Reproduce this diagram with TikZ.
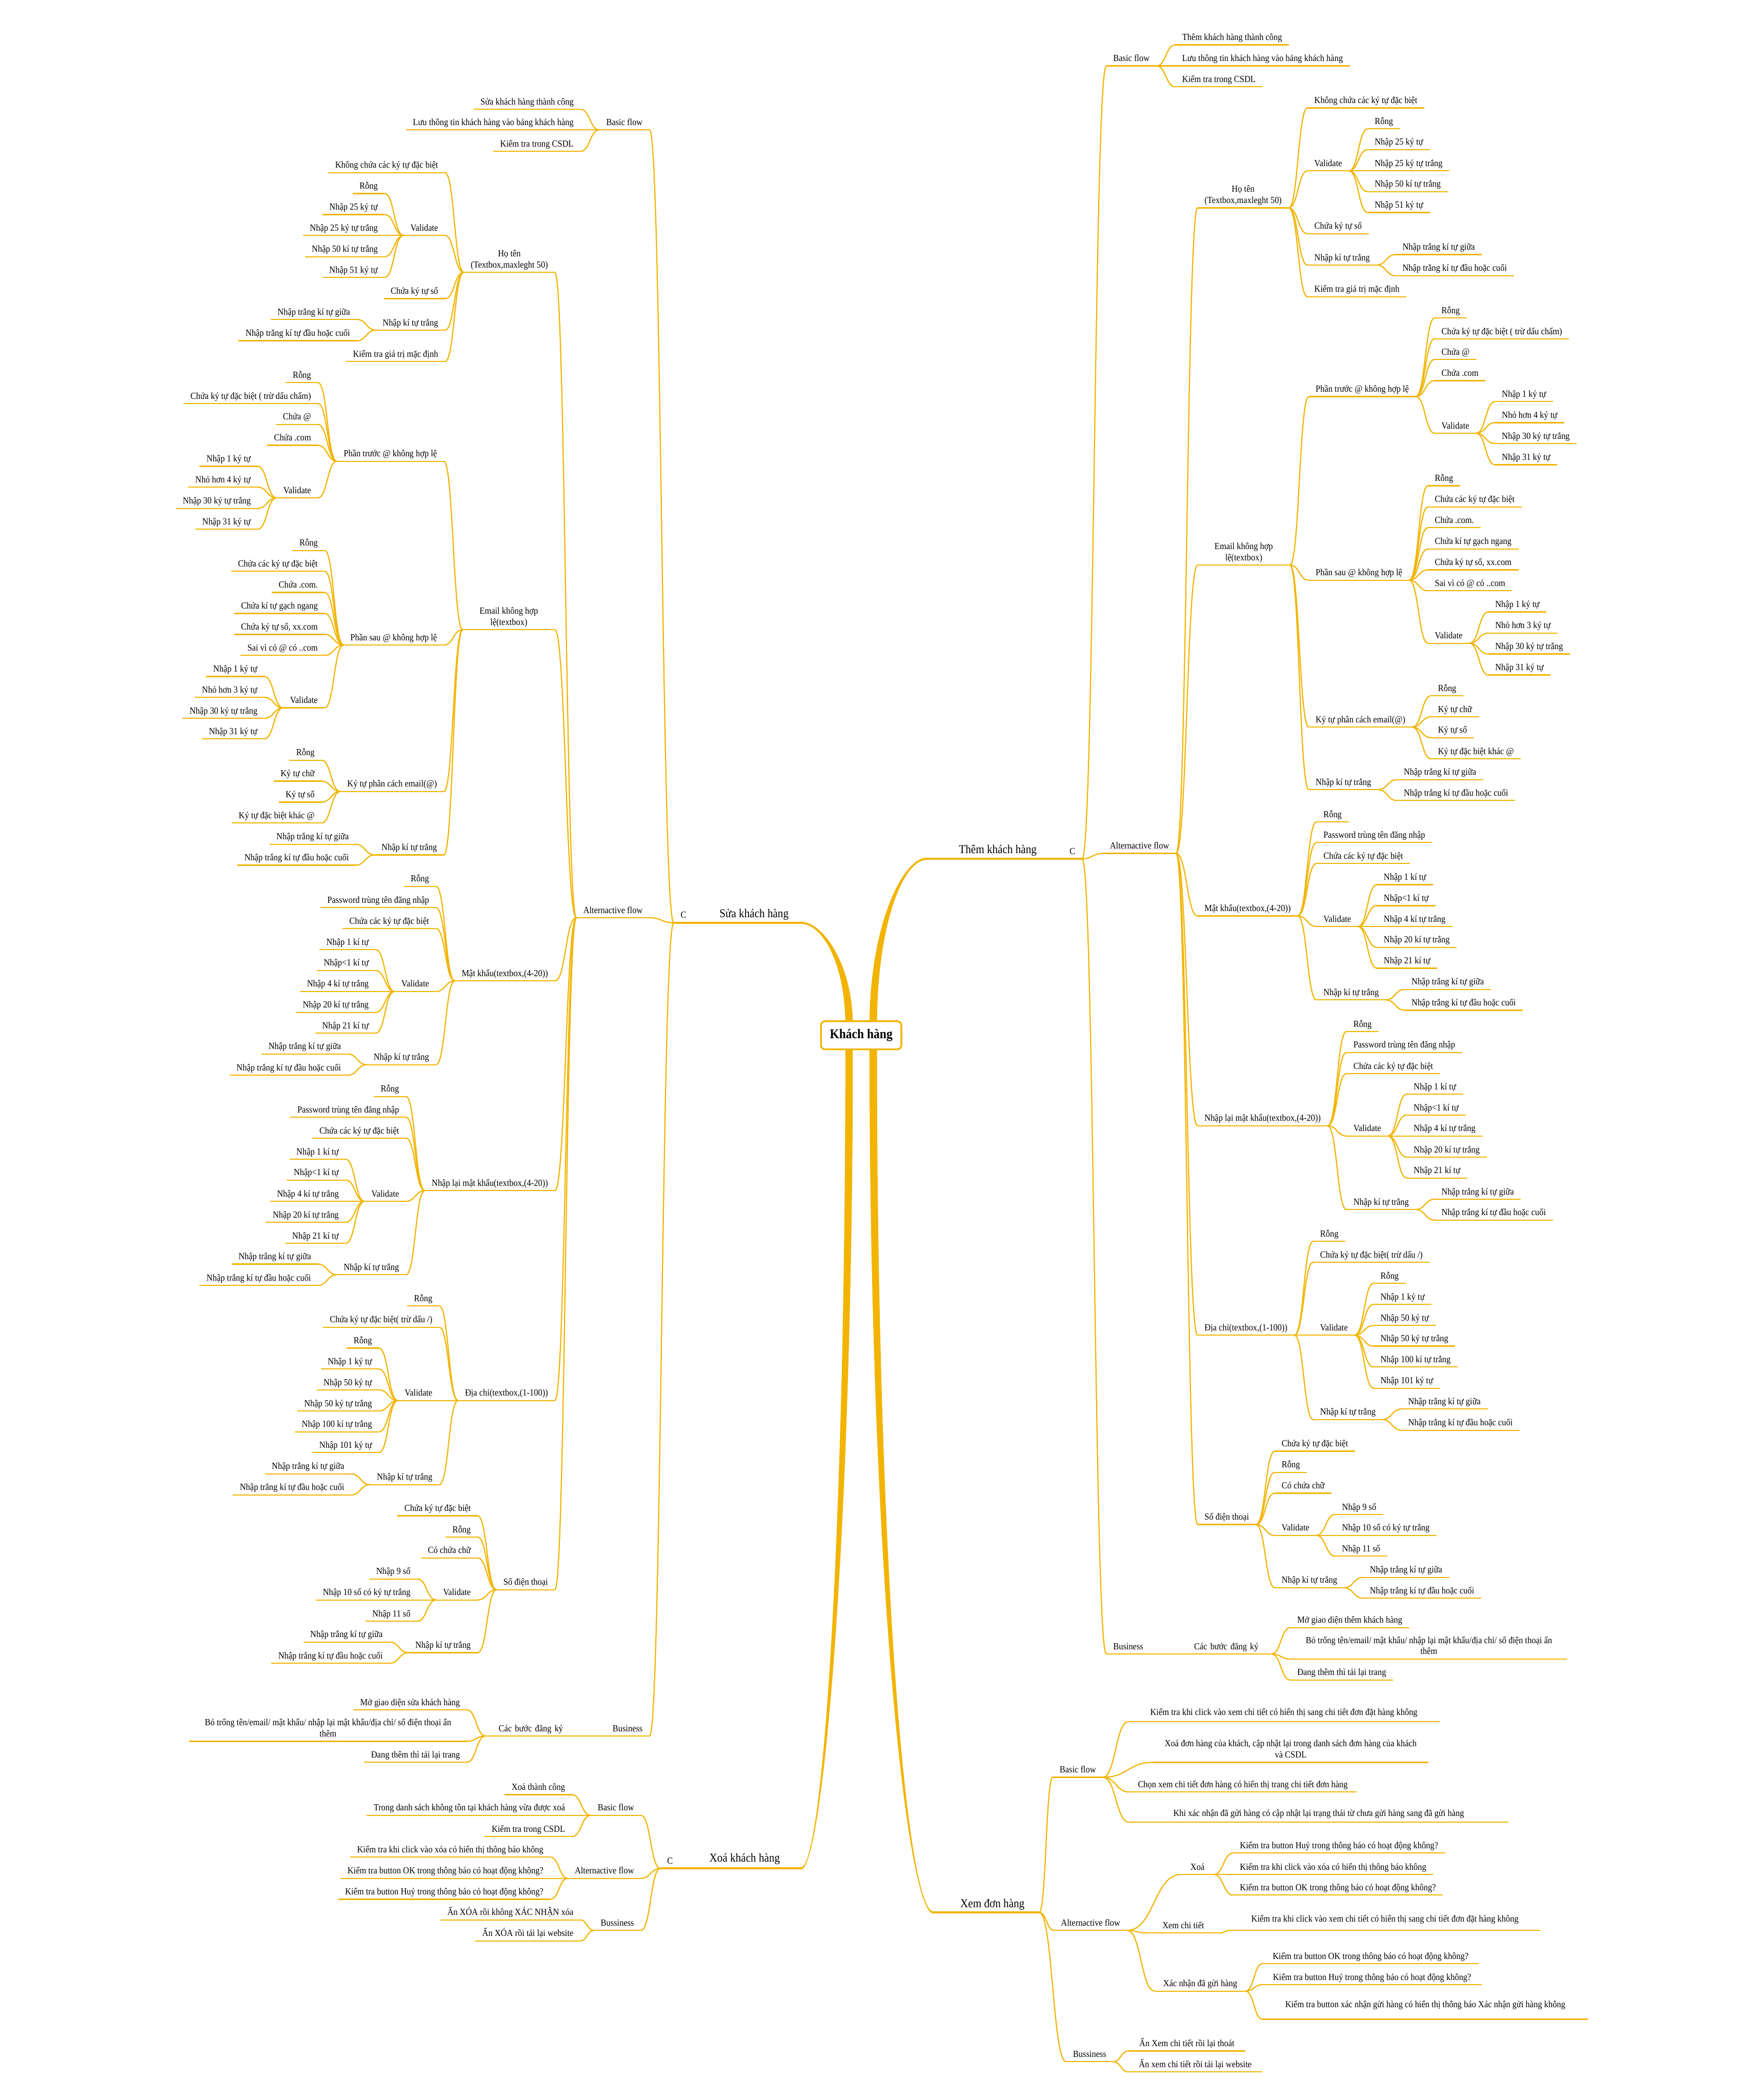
\documentclass[tikz,border=0pt]{standalone}
\usepackage{fontspec}
\setmainfont{Liberation Serif}[FakeStretch=0.9]
\usetikzlibrary{calc}
\definecolor{mo}{RGB}{242,180,0}
\newcommand\fs{\fontsize{7}{8.4}\selectfont}
\newcommand\ml[2]{\begin{tabular}[b]{@{}c@{}}#1\\#2\end{tabular}}
\def\gap{14}
\tikzset{
 leaf/.style={inner xsep=5pt, inner ysep=1.2pt, text height=5pt, text depth=2pt, font=\fs, text=black},
 uline/.style={draw=mo, line width=0.85pt},
 conn/.style={draw=mo, line width=0.85pt},
 pt/.style={inner sep=0pt, outer sep=0pt, minimum size=0pt},
 lvl/.style={inner sep=0pt, font=\fontsize{9}{10}\selectfont, text=black},
 fline/.style={draw=mo, line width=1.5pt},
}
\newcommand\ul[1]{\draw[uline] (#1.south west) -- (#1.south east);}
\newcommand\cL[2]{\draw[conn] let \p1=(#1.south west), \p2=(#2.south east), \n1={(\x1-\x2)/2} in (\p1) .. controls +(-\n1,0) and +(\n1,0) .. (\p2);}
\newcommand\cR[2]{\draw[conn] let \p1=(#1.south east), \p2=(#2.south west), \n1={(\x2-\x1)/2} in (\p1) .. controls +(\n1,0) and +(-\n1,0) .. (\p2);}
\newcommand\LC[5][]{\path let \p1=(#3.south west) in node[leaf,anchor=south east,#1] (#2) at (\x1-\gap,-#4) {#5}; \cL{#3}{#2}\ul{#2}}
\newcommand\RC[5][]{\path let \p1=(#3.south east) in node[leaf,anchor=south west,#1] (#2) at (\x1+\gap,-#4) {#5}; \cR{#3}{#2}\ul{#2}}
\newcommand\LA[5][]{\node[leaf,anchor=south east,#1] (#2) at (#3,-#4) {#5}; \ul{#2}}
\newcommand\RA[5][]{\node[leaf,anchor=south west,#1] (#2) at (#3,-#4) {#5}; \ul{#2}}
\newcommand\branch[6]{%
\fill[mo] ({#1+(#5)*2.8},#2) .. controls ({#1+(#5)*2.8},{#2+0.6*((#4)-(#2))}) and ({#3+0.45*((#1)-(#3))},{#4+(#6)*0.8}) .. (#3,{#4+(#6)*0.8})
 -- (#3,{#4-(#6)*0.8}) .. controls ({#3+0.45*((#1)-(#3))},{#4-(#6)*0.8}) and ({#1-(#5)*2.8},{#2+0.6*((#4)-(#2))}) .. ({#1-(#5)*2.8},#2) -- cycle;}
\begin{document}
\begin{tikzpicture}[x=1pt,y=1pt]
\useasboundingbox (0,0) rectangle (1311,-1568);
\fill[white] (0,0) rectangle (1311,-1568);

% ---------- root branches ----------
\branch{634}{-766}{598}{-689}{-1}{-1}
\branch{652}{-766}{692}{-641.2}{-1}{1}
\branch{634}{-781}{598}{-1395.1}{1}{-1}
\branch{652}{-781}{697}{-1428}{1}{1}

% ================= LEFT : Sửa khách hàng =================
\node[leaf, anchor=south west] (sC) at (503,-689) {C};
\draw[fline] (sC.south west) -- (599,-689);
\node[lvl] at (563,-683) {Sửa khách hàng};
\LA{sB}{485}{97}{Basic flow}\cL{sC}{sB}
\LC{sB1}{sB}{81.6}{Sửa khách hàng thành công}
\LC{sB2}{sB}{97}{Lưu thông tin khách hàng vào bảng khách hàng}
\LC{sB3}{sB}{113}{Kiểm tra trong CSDL}
\LA{sA}{485}{685.2}{Alternactive flow}\cL{sC}{sA}
\def\gap{16}
\LC{sH}{sA}{203.3}{\ml{Họ tên}{(Textbox,maxleght 50)}}
\LC[minimum width=68.5pt]{sE}{sA}{470.2}{\ml{Email không hợp}{lệ(textbox)}}
\LC{sM}{sA}{732.4}{Mật khẩu(textbox,(4-20))}
\LC{sR}{sA}{889}{Nhập lại mật khẩu(textbox,(4-20))}
\LC{sD}{sA}{1045.7}{Địa chỉ(textbox,(1-100))}
\LC{sS}{sA}{1187}{Số điện thoại}
\def\gap{14}
% Họ tên
\LC{sH1}{sH}{128.9}{Không chứa các ký tự đặc biệt}
\LC{sHV}{sH}{175.8}{Validate}
\LC{sHV1}{sHV}{144.5}{Rỗng}
\LC{sHV2}{sHV}{160.2}{Nhập 25 ký tự}
\LC{sHV3}{sHV}{175.8}{Nhập 25 ký tự trắng}
\LC{sHV4}{sHV}{191.7}{Nhập 50 kí tự trắng}
\LC{sHV5}{sHV}{207.2}{Nhập 51 ký tự}
\LC{sH2}{sH}{223}{Chứa ký tự số}
\LC{sHN}{sH}{246.5}{Nhập kí tự trắng}
\LC{sHN1}{sHN}{238.5}{Nhập trắng kí tự giữa}
\LC{sHN2}{sHN}{254.4}{Nhập trắng kí tự đầu hoặc cuối}
\LC{sH3}{sH}{270}{Kiểm tra giá trị mặc định}
% Email
\LC{sEa}{sE}{344.4}{Phần trước @ không hợp lệ}
\LC{sEa1}{sEa}{285.7}{Rỗng}
\LC{sEa2}{sEa}{301.3}{Chứa ký tự đặc biệt ( trừ dấu chấm)}
\LC{sEa3}{sEa}{316.9}{Chứa @}
\LC{sEa4}{sEa}{332.5}{Chứa .com}
\LC{sEaV}{sEa}{371.7}{Validate}
\LC{sEaV1}{sEaV}{348.2}{Nhập 1 ký tự}
\LC{sEaV2}{sEaV}{363.7}{Nhỏ hơn 4 ký tự}
\LC{sEaV3}{sEaV}{379.6}{Nhập 30 ký tự trắng}
\LC{sEaV4}{sEaV}{395.2}{Nhập 31 ký tự}
\LC{sEb}{sE}{481.6}{Phần sau @ không hợp lệ}
\LC{sEb1}{sEb}{411}{Rỗng}
\LC{sEb2}{sEb}{426.5}{Chứa các ký tự đặc biệt}
\LC{sEb3}{sEb}{442.3}{Chứa .com.}
\LC{sEb4}{sEb}{458}{Chứa kí tự gạch ngang}
\LC{sEb5}{sEb}{473.7}{Chứa ký tự số, xx.com}
\LC{sEb6}{sEb}{489.3}{Sai vì có @ có ..com}
\LC{sEbV}{sEb}{528.5}{Validate}
\LC{sEbV1}{sEbV}{505.1}{Nhập 1 ký tự}
\LC{sEbV2}{sEbV}{520.7}{Nhỏ hơn 3 ký tự}
\LC{sEbV3}{sEbV}{536.4}{Nhập 30 ký tự trắng}
\LC{sEbV4}{sEbV}{551.7}{Nhập 31 ký tự}
\LC{sEc}{sE}{591}{Ký tự phân cách email(@)}
\LC{sEc1}{sEc}{567.6}{Rỗng}
\LC{sEc2}{sEc}{583.2}{Ký tự chữ}
\LC{sEc3}{sEc}{598.9}{Ký tự số}
\LC{sEc4}{sEc}{614.5}{Ký tự đặc biệt khác @}
\LC{sEd}{sE}{638.3}{Nhập kí tự trắng}
\LC{sEd1}{sEd}{630.4}{Nhập trắng kí tự giữa}
\LC{sEd2}{sEd}{646}{Nhập trắng kí tự đầu hoặc cuối}
% Mật khẩu
\LC{sM1}{sM}{661.8}{Rỗng}
\LC{sM2}{sM}{677.7}{Password trùng tên đăng nhập}
\LC{sM3}{sM}{693.3}{Chứa các ký tự đặc biệt}
\LC{sMV}{sM}{740.3}{Validate}
\LC{sMV1}{sMV}{709}{Nhập 1 kí tự}
\LC{sMV2}{sMV}{724.6}{Nhập<1 kí tự}
\LC{sMV3}{sMV}{740.3}{Nhập 4 kí tự trắng}
\LC{sMV4}{sMV}{755.9}{Nhập 20 kí tự trắng}
\LC{sMV5}{sMV}{771.4}{Nhập 21 kí tự}
\LC{sMN}{sM}{795}{Nhập kí tự trắng}
\LC{sMN1}{sMN}{787}{Nhập trắng kí tự giữa}
\LC{sMN2}{sMN}{802.8}{Nhập trắng kí tự đầu hoặc cuối}
% Nhập lại mật khẩu
\LC{sR1}{sR}{818.7}{Rỗng}
\LC{sR2}{sR}{834.2}{Password trùng tên đăng nhập}
\LC{sR3}{sR}{849.8}{Chứa các ký tự đặc biệt}
\LC{sRV}{sR}{897}{Validate}
\LC{sRV1}{sRV}{865.5}{Nhập 1 kí tự}
\LC{sRV2}{sRV}{881.1}{Nhập<1 kí tự}
\LC{sRV3}{sRV}{897}{Nhập 4 kí tự trắng}
\LC{sRV4}{sRV}{912.6}{Nhập 20 kí tự trắng}
\LC{sRV5}{sRV}{928.3}{Nhập 21 kí tự}
\LC{sRN}{sR}{951.8}{Nhập kí tự trắng}
\LC{sRN1}{sRN}{943.8}{Nhập trắng kí tự giữa}
\LC{sRN2}{sRN}{959.7}{Nhập trắng kí tự đầu hoặc cuối}
% Địa chỉ
\LC{sD1}{sD}{975.1}{Rỗng}
\LC{sD2}{sD}{991}{Chứa ký tự đặc biệt( trừ dấu /)}
\LC{sDV}{sD}{1045.7}{Validate}
\LC{sDV1}{sDV}{1006.6}{Rỗng}
\LC{sDV2}{sDV}{1022.2}{Nhập 1 ký tự}
\LC{sDV3}{sDV}{1037.8}{Nhập 50 ký tự}
\LC{sDV4}{sDV}{1053.5}{Nhập 50 ký tự trắng}
\LC{sDV5}{sDV}{1069.1}{Nhập 100 kí tự trắng}
\LC{sDV6}{sDV}{1084.6}{Nhập 101 ký tự}
\LC{sDN}{sD}{1108.5}{Nhập kí tự trắng}
\LC{sDN1}{sDN}{1100.5}{Nhập trắng kí tự giữa}
\LC{sDN2}{sDN}{1116.2}{Nhập trắng kí tự đầu hoặc cuối}
% Số điện thoại
\LC{sS1}{sS}{1131.8}{Chứa ký tự đặc biệt}
\LC{sS2}{sS}{1147.7}{Rỗng}
\LC{sS3}{sS}{1163.3}{Có chứa chữ}
\LC{sSV}{sS}{1194.6}{Validate}
\LC{sSV1}{sSV}{1179}{Nhập 9 số}
\LC{sSV2}{sSV}{1194.6}{Nhập 10 số có ký tự trắng}
\LC{sSV3}{sSV}{1210.5}{Nhập 11 số}
\LC{sSN}{sS}{1234}{Nhập kí tự trắng}
\LC{sSN1}{sSN}{1226}{Nhập trắng kí tự giữa}
\LC{sSN2}{sSN}{1241.9}{Nhập trắng kí tự đầu hoặc cuối}
% Business
\LA[text width=49pt, align=right]{sU}{485}{1296.2}{Business}\cL{sC}{sU}
\def\gap{0}
\LC[text width=52.6pt, align=right]{sUC}{sU}{1296.2}{Các bước đăng ký}
\def\gap{14}
\LC{sUC1}{sUC}{1276.7}{Mở giao diện sửa khách hàng}
\LC[minimum width=207pt]{sUC2}{sUC}{1300.2}{\ml{Bỏ trống tên/email/ mật khẩu/ nhập lại mật khẩu/địa chỉ/ số điện thoại ấn}{thêm}}
\LC{sUC3}{sUC}{1315.8}{Đang thêm thì tải lại trang}

% ================= LEFT : Xoá khách hàng =================
\node[leaf, anchor=south west] (xC) at (493,-1395.1) {C};
\draw[fline] (xC.south west) -- (599,-1395.1);
\node[lvl] at (556,-1388) {Xoá khách hàng};
\LA{xB}{478.6}{1355.4}{Basic flow}\cL{xC}{xB}
\LC{xB1}{xB}{1340}{Xoá thành công}
\LC{xB2}{xB}{1355.4}{Trong danh sách không tồn tại khách hàng vừa được xoá}
\LC{xB3}{xB}{1371.3}{Kiểm tra trong CSDL}
\LA{xA}{478.6}{1402.5}{Alternactive flow}\cL{xC}{xA}
\def\gap{13}
\LC{xA1}{xA}{1386.6}{Kiểm tra khi click vào xóa có hiển thị thông báo không}
\LC{xA2}{xA}{1402.5}{Kiểm tra button OK trong thông báo có hoạt động không?}
\LC{xA3}{xA}{1418.1}{Kiểm tra button Huỷ trong thông báo có hoạt động không?}
\LA{xU}{478.6}{1441.4}{Bussiness}\cL{xC}{xU}
\def\gap{10}
\LC{xU1}{xU}{1433.5}{Ấn XÓA rồi không XÁC NHẬN xóa}
\LC{xU2}{xU}{1449.2}{Ấn XÓA rồi tải lại website}
\def\gap{14}

% ================= RIGHT : Thêm khách hàng =================
\node[leaf, anchor=south east] (tC) at (808,-641.2) {C};
\draw[fline] (691,-641.2) -- (tC.south east);
\node[lvl] at (745,-635) {Thêm khách hàng};
\RA{tB}{826}{49.2}{Basic flow}\cR{tC}{tB}
\RC{tB1}{tB}{33.5}{Thêm khách hàng thành công}
\RC{tB2}{tB}{49.2}{Lưu thông tin khách hàng vào bảng khách hàng}
\RC{tB3}{tB}{64.8}{Kiểm tra trong CSDL}
\RA{tA}{823.5}{637.2}{Alternactive flow}\cR{tC}{tA}
\def\gap{16}
\RC{tH}{tA}{155.2}{\ml{Họ tên}{(Textbox,maxleght 50)}}
\RC[minimum width=68.6pt]{tE}{tA}{421.9}{\ml{Email không hợp}{lệ(textbox)}}
\RC{tM}{tA}{683.9}{Mật khẩu(textbox,(4-20))}
\RC{tR}{tA}{840.6}{Nhập lại mật khẩu(textbox,(4-20))}
\RC{tD}{tA}{996.9}{Địa chỉ(textbox,(1-100))}
\RC{tS}{tA}{1138.3}{Số điện thoại}
\def\gap{14}
% Họ tên
\RC{tH1}{tH}{80.6}{Không chứa các ký tự đặc biệt}
\RC{tHV}{tH}{127.6}{Validate}
\RC{tHV1}{tHV}{96.2}{Rỗng}
\RC{tHV2}{tHV}{111.7}{Nhập 25 ký tự}
\RC{tHV3}{tHV}{127.6}{Nhập 25 ký tự trắng}
\RC{tHV4}{tHV}{143.1}{Nhập 50 kí tự trắng}
\RC{tHV5}{tHV}{158.7}{Nhập 51 ký tự}
\RC{tH2}{tH}{174.5}{Chứa ký tự số}
\RC{tHN}{tH}{197.9}{Nhập kí tự trắng}
\RC{tHN1}{tHN}{190.1}{Nhập trắng kí tự giữa}
\RC{tHN2}{tHN}{205.9}{Nhập trắng kí tự đầu hoặc cuối}
\RC{tH3}{tH}{221.6}{Kiểm tra giá trị mặc định}
% Email
\RC{tEa}{tE}{296.1}{Phần trước @ không hợp lệ}
\RC{tEa1}{tEa}{237.4}{Rỗng}
\RC{tEa2}{tEa}{253}{Chứa ký tự đặc biệt ( trừ dấu chấm)}
\RC{tEa3}{tEa}{268.4}{Chứa @}
\RC{tEa4}{tEa}{284.2}{Chứa .com}
\RC{tEaV}{tEa}{323.5}{Validate}
\RC{tEaV1}{tEaV}{299.8}{Nhập 1 ký tự}
\RC{tEaV2}{tEaV}{315.6}{Nhỏ hơn 4 ký tự}
\RC{tEaV3}{tEaV}{331.2}{Nhập 30 ký tự trắng}
\RC{tEaV4}{tEaV}{347}{Nhập 31 ký tự}
\RC{tEb}{tE}{433.2}{Phần sau @ không hợp lệ}
\RC{tEb1}{tEb}{362.7}{Rỗng}
\RC{tEb2}{tEb}{378.5}{Chứa các ký tự đặc biệt}
\RC{tEb3}{tEb}{394}{Chứa .com.}
\RC{tEb4}{tEb}{409.9}{Chứa kí tự gạch ngang}
\RC{tEb5}{tEb}{425.5}{Chứa ký tự số, xx.com}
\RC{tEb6}{tEb}{441.1}{Sai vì có @ có ..com}
\RC{tEbV}{tEb}{480.3}{Validate}
\RC{tEbV1}{tEbV}{456.9}{Nhập 1 ký tự}
\RC{tEbV2}{tEbV}{472.7}{Nhỏ hơn 3 ký tự}
\RC{tEbV3}{tEbV}{488.3}{Nhập 30 ký tự trắng}
\RC{tEbV4}{tEbV}{504}{Nhập 31 ký tự}
\RC{tEc}{tE}{542.9}{Ký tự phân cách email(@)}
\RC{tEc1}{tEc}{519.5}{Rỗng}
\RC{tEc2}{tEc}{535.2}{Ký tự chữ}
\RC{tEc3}{tEc}{550.8}{Ký tự số}
\RC{tEc4}{tEc}{566.6}{Ký tự đặc biệt khác @}
\RC{tEd}{tE}{589.6}{Nhập kí tự trắng}
\RC{tEd1}{tEd}{582.2}{Nhập trắng kí tự giữa}
\RC{tEd2}{tEd}{597.7}{Nhập trắng kí tự đầu hoặc cuối}
% Mật khẩu
\RC{tM1}{tM}{613.6}{Rỗng}
\RC{tM2}{tM}{629.1}{Password trùng tên đăng nhập}
\RC{tM3}{tM}{644.7}{Chứa các ký tự đặc biệt}
\RC{tMV}{tM}{691.8}{Validate}
\RC{tMV1}{tMV}{660.5}{Nhập 1 kí tự}
\RC{tMV2}{tMV}{676.2}{Nhập<1 kí tự}
\RC{tMV3}{tMV}{691.8}{Nhập 4 kí tự trắng}
\RC{tMV4}{tMV}{707.3}{Nhập 20 kí tự trắng}
\RC{tMV5}{tMV}{722.9}{Nhập 21 kí tự}
\RC{tMN}{tM}{746.6}{Nhập kí tự trắng}
\RC{tMN1}{tMN}{738.7}{Nhập trắng kí tự giữa}
\RC{tMN2}{tMN}{754.3}{Nhập trắng kí tự đầu hoặc cuối}
% Nhập lại mật khẩu
\RC{tR1}{tR}{770.2}{Rỗng}
\RC{tR2}{tR}{785.8}{Password trùng tên đăng nhập}
\RC{tR3}{tR}{801.6}{Chứa các ký tự đặc biệt}
\RC{tRV}{tR}{848.2}{Validate}
\RC{tRV1}{tRV}{816.9}{Nhập 1 kí tự}
\RC{tRV2}{tRV}{832.6}{Nhập<1 kí tự}
\RC{tRV3}{tRV}{848.2}{Nhập 4 kí tự trắng}
\RC{tRV4}{tRV}{864}{Nhập 20 kí tự trắng}
\RC{tRV5}{tRV}{879.6}{Nhập 21 kí tự}
\RC{tRN}{tR}{903.1}{Nhập kí tự trắng}
\RC{tRN1}{tRN}{895.4}{Nhập trắng kí tự giữa}
\RC{tRN2}{tRN}{911}{Nhập trắng kí tự đầu hoặc cuối}
% Địa chỉ
\RC{tD1}{tD}{926.8}{Rỗng}
\RC{tD2}{tD}{942.5}{Chứa ký tự đặc biệt( trừ dấu /)}
\RC{tDV}{tD}{996.9}{Validate}
\RC{tDV1}{tDV}{958.2}{Rỗng}
\RC{tDV2}{tDV}{973.9}{Nhập 1 ký tự}
\RC{tDV3}{tDV}{989.7}{Nhập 50 ký tự}
\RC{tDV4}{tDV}{1005.1}{Nhập 50 ký tự trắng}
\RC{tDV5}{tDV}{1020.7}{Nhập 100 kí tự trắng}
\RC{tDV6}{tDV}{1036.5}{Nhập 101 ký tự}
\RC{tDN}{tD}{1059.9}{Nhập kí tự trắng}
\RC{tDN1}{tDN}{1052.1}{Nhập trắng kí tự giữa}
\RC{tDN2}{tDN}{1067.9}{Nhập trắng kí tự đầu hoặc cuối}
% Số điện thoại
\RC{tS1}{tS}{1083.5}{Chứa ký tự đặc biệt}
\RC{tS2}{tS}{1099.3}{Rỗng}
\RC{tS3}{tS}{1114.9}{Có chứa chữ}
\RC{tSV}{tS}{1146.4}{Validate}
\RC{tSV1}{tSV}{1130.8}{Nhập 9 số}
\RC{tSV2}{tSV}{1146.4}{Nhập 10 số có ký tự trắng}
\RC{tSV3}{tSV}{1161.9}{Nhập 11 số}
\RC{tSN}{tS}{1185.5}{Nhập kí tự trắng}
\RC{tSN1}{tSN}{1177.8}{Nhập trắng kí tự giữa}
\RC{tSN2}{tSN}{1193.3}{Nhập trắng kí tự đầu hoặc cuối}
% Business
\RA[text width=50pt, align=left]{tU}{826}{1235}{Business}\cR{tC}{tU}
\def\gap{0}
\RC[text width=52.6pt, align=left]{tUC}{tU}{1235}{Các bước đăng ký}
\def\gap{14}
\RC{tUC1}{tUC}{1215.3}{Mở giao diện thêm khách hàng}
\RC[minimum width=206.6pt]{tUC2}{tUC}{1238.7}{\ml{Bỏ trống tên/email/ mật khẩu/ nhập lại mật khẩu/địa chỉ/ số điện thoại ấn}{thêm}}
\RC{tUC3}{tUC}{1254.4}{Đang thêm thì tải lại trang}

% ================= RIGHT : Xem đơn hàng =================
\draw[fline] (697,-1428) -- (776,-1428);
\node[lvl] at (741,-1422) {Xem đơn hàng};
\node[pt] (vX) at (776,-1428) {};
\RA{vB}{786}{1327}{Basic flow}\cR{vX}{vB}
\RA[minimum width=232pt, text depth=3.5pt]{vB1}{842.4}{1285.5}{Kiểm tra khi click vào xem chi tiết có hiển thị sang chi tiết đơn đặt hàng không}\cR{vB}{vB1}
\RA[minimum width=205pt]{vB2}{861}{1315.9}{\ml{Xoá đơn hàng của khách, cập nhật lại trong danh sách đơn hàng của khách}{và CSDL}}\cR{vB}{vB2}
\RA[minimum width=169.5pt]{vB3}{843}{1338}{Chọn xem chi tiết đơn hàng có hiển thị trang chi tiết đơn hàng}\cR{vB}{vB3}
\RA[minimum width=282.8pt, text depth=3pt]{vB4}{843}{1360.6}{Khi xác nhận đã gửi hàng có cập nhật lại trạng thái từ chưa gửi hàng sang đã gửi hàng}\cR{vB}{vB4}
\RA{vA}{787}{1441.3}{Alternactive flow}\cR{vX}{vA}
\RA[minimum width=24.2pt]{vA1}{881.8}{1399.6}{Xoá}\cR{vA}{vA1}
\RA{vA11}{920.6}{1383.6}{Kiểm tra button Huỷ trong thông báo có hoạt động không?}\cR{vA1}{vA11}
\RA{vA12}{920.6}{1399.6}{Kiểm tra khi click vào xóa có hiển thị thông báo không}\cR{vA1}{vA12}
\RA{vA13}{920.6}{1415}{Kiểm tra button OK trong thông báo có hoạt động không?}\cR{vA1}{vA13}
\RA[minimum width=53.8pt]{vA2}{856.4}{1443.3}{Xem chi tiết}\cR{vA}{vA2}
\RA[minimum width=231.7pt, text depth=4.8pt]{vA21}{918}{1441.3}{Kiểm tra khi click vào xem chi tiết có hiển thị sang chi tiết đơn đặt hàng không}\cR{vA2}{vA21}
\RA[minimum width=67.3pt]{vA3}{862.3}{1486.7}{Xác nhận đã gửi hàng}\cR{vA}{vA3}
\RA[minimum width=161.2pt]{vA31}{942.6}{1466.2}{Kiểm tra button OK trong thông báo có hoạt động không?}\cR{vA3}{vA31}
\RA[minimum width=163.3pt]{vA32}{942.6}{1481.9}{Kiểm tra button Huỷ trong thông báo có hoạt động không?}\cR{vA3}{vA32}
\RA[minimum width=242.7pt, text depth=7.6pt]{vA33}{942.6}{1507.7}{Kiểm tra button xác nhận gửi hàng có hiển thị thông báo Xác nhận gửi hàng không}\cR{vA3}{vA33}
\RA{vU}{796}{1539.4}{Bussiness}\cR{vX}{vU}
\RA[minimum width=87.2pt]{vU1}{842.4}{1531.4}{Ấn Xem chi tiết rồi lại thoát}\cR{vU}{vU1}
\RA[minimum width=99.6pt]{vU2}{842.4}{1547}{Ấn xem chi tiết rồi tải lại website}\cR{vU}{vU2}

% ---------- root ----------
\node[draw=mo, line width=1.3pt, fill=white, rounded corners=3pt, minimum width=60pt, minimum height=21pt, inner sep=2pt, font=\fontsize{10}{12}\selectfont\bfseries] (root) at (643,-773) {Khách hàng};
\end{tikzpicture}
\end{document}
